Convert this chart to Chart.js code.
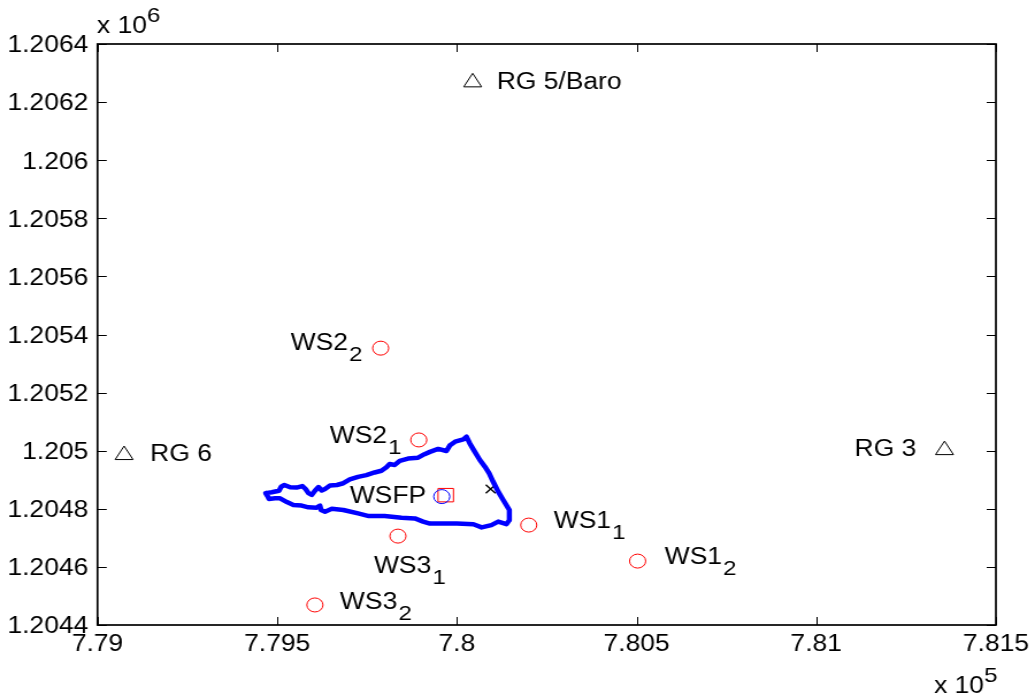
<!DOCTYPE html>
<html>
<head>
<meta charset="utf-8">
<script src="https://cdn.jsdelivr.net/npm/chart.js@4"></script>
<style>
  html, body { margin: 0; padding: 0; background: #fff; overflow: hidden; }
  /* the original figure is stretched sideways, circles come out as ellipses */
  #wrap { width: 899px; height: 693px; transform: scaleX(1.15); transform-origin: 0 0; }
</style>
</head>
<body>
<div id="wrap"><canvas id="siteMap"></canvas></div>
<script>
// Catchment outline (easting, northing)
const outlineX = [779468, 779485, 779505, 779511, 779520, 779536, 779554, 779570, 779579, 779587, 779596, 779605, 779615, 779624, 779633, 779647, 779666, 779684, 779702, 779725, 779748, 779771, 779790, 779804, 779813, 779827, 779841, 779864, 779892, 779910, 779925, 779948, 779971, 779981, 779995, 780018, 780027, 780036, 780050, 780064, 780078, 780090, 780101, 780115, 780129, 780146, 780146, 780138, 780115, 780096, 780069, 780046, 780000, 779925, 779906, 779883, 779846, 779799, 779755, 779725, 779684, 779652, 779633, 779622, 779619, 779610, 779587, 779568, 779545, 779527, 779508, 779494, 779477, 779474, 779468];
const outlineY = [1204854, 1204857, 1204862, 1204876, 1204882, 1204874, 1204873, 1204878, 1204868, 1204854, 1204848, 1204862, 1204875, 1204863, 1204868, 1204880, 1204882, 1204888, 1204901, 1204910, 1204916, 1204925, 1204931, 1204943, 1204954, 1204951, 1204965, 1204973, 1204976, 1204988, 1204996, 1205006, 1204999, 1205019, 1205031, 1205039, 1205048, 1205025, 1204996, 1204968, 1204945, 1204922, 1204893, 1204859, 1204830, 1204796, 1204761, 1204747, 1204756, 1204744, 1204736, 1204747, 1204749, 1204749, 1204756, 1204767, 1204769, 1204775, 1204775, 1204784, 1204796, 1204800, 1204790, 1204796, 1204811, 1204804, 1204805, 1204811, 1204813, 1204823, 1204836, 1204836, 1204834, 1204842, 1204854];

// Water level sites
const wellNames = ['WS1', 'WS1', 'WS2', 'WS2', 'WS3', 'WS3'];
const wellSubs = ['1', '2', '1', '2', '1', '2'];
const wellX = [780200, 780503, 779894, 779788, 779836, 779605];
const wellY = [1204744, 1204620, 1205037, 1205353, 1204706, 1204469];

// Rain gauges
const gaugeNames = ['RG 3', 'RG 5/Baro', 'RG 6'];
const gaugeX = [781357, 780044, 779074];
const gaugeY = [1205002, 1206268, 1204985];

// WSFP markers
const fpName = 'WSFP';
const fpCircleX = [779958];
const fpCircleY = [1204842];
const fpSquareX = [779969];
const fpSquareY = [1204847];
const crossX = [780094];
const crossY = [1204868];

// Axes
const xTicks = [779000, 779500, 780000, 780500, 781000, 781500];
const xTickLabels = ['7.79', '7.795', '7.8', '7.805', '7.81', '7.815'];
const yTicks = [1204400, 1204600, 1204800, 1205000, 1205200, 1205400, 1205600, 1205800, 1206000, 1206200, 1206400];
const yTickLabels = ['1.2044', '1.2046', '1.2048', '1.205', '1.2052', '1.2054', '1.2056', '1.2058', '1.206', '1.2062', '1.2064'];

const FONT = 'Liberation Sans, Arial, sans-serif';
const STRETCH = 1.15;

function pts(xs, ys) {
  return xs.map((x, i) => ({ x: x, y: ys[i] }));
}

// pixel offsets of each label from its marker, as seen on the page
const wellOffsets = [[25, -3], [27, -3], [-89, -3], [-90, -4], [-24, 31], [25, -2]];
const gaugeOffsets = [[-90, 0], [24, 0], [26, 0]];

function drawSub(ctx, name, sub, x, y) {
  ctx.font = '23px ' + FONT;
  ctx.fillText(name, x, y);
  if (sub) {
    const w = ctx.measureText(name).width;
    ctx.font = '21px ' + FONT;
    ctx.fillText(sub, x + w + 1, y + 11);
  }
}

const labelPlugin = {
  id: 'labels',
  afterDatasetsDraw(chart) {
    const ctx = chart.ctx;
    const sx = chart.scales.x, sy = chart.scales.y;
    ctx.save();
    ctx.fillStyle = '#000';
    ctx.textBaseline = 'middle';
    ctx.textAlign = 'left';
    wellNames.forEach((n, i) => {
      drawSub(ctx, n, wellSubs[i],
        sx.getPixelForValue(wellX[i]) + wellOffsets[i][0] / STRETCH,
        sy.getPixelForValue(wellY[i]) + wellOffsets[i][1]);
    });
    gaugeNames.forEach((n, i) => {
      drawSub(ctx, n, '',
        sx.getPixelForValue(gaugeX[i]) + gaugeOffsets[i][0] / STRETCH,
        sy.getPixelForValue(gaugeY[i]) + gaugeOffsets[i][1]);
    });
    drawSub(ctx, fpName, '', sx.getPixelForValue(fpCircleX[0]) - 92 / STRETCH, sy.getPixelForValue(fpCircleY[0]));
    // axis multipliers
    drawSub(ctx, 'x 10', '', 97 / STRETCH, 27);
    ctx.font = '21px ' + FONT;
    ctx.fillText('6', 147 / STRETCH, 16);
    drawSub(ctx, 'x 10', '', 934 / STRETCH, 687);
    ctx.font = '21px ' + FONT;
    ctx.fillText('5', 984 / STRETCH, 676);
    ctx.restore();
  }
};

// box and inward ticks on all four sides
const framePlugin = {
  id: 'frame',
  afterDraw(chart) {
    const a = chart.chartArea, ctx = chart.ctx;
    const sx = chart.scales.x, sy = chart.scales.y;
    ctx.save();
    ctx.strokeStyle = '#000';
    ctx.lineWidth = 1.7;
    ctx.strokeRect(a.left, a.top, a.right - a.left, a.bottom - a.top);
    ctx.lineWidth = 1;
    ctx.beginPath();
    xTicks.forEach((v) => {
      const x = Math.round(sx.getPixelForValue(v)) + 0.5;
      ctx.moveTo(x, a.bottom); ctx.lineTo(x, a.bottom - 8);
      ctx.moveTo(x, a.top); ctx.lineTo(x, a.top + 8);
    });
    yTicks.forEach((v) => {
      const y = Math.round(sy.getPixelForValue(v)) + 0.5;
      ctx.moveTo(a.left, y); ctx.lineTo(a.left + 8, y);
      ctx.moveTo(a.right, y); ctx.lineTo(a.right - 8, y);
    });
    ctx.stroke();
    ctx.restore();
  }
};

new Chart(document.getElementById('siteMap'), {
  type: 'scatter',
  data: {
    datasets: [
      {
        label: 'Outline',
        data: pts(outlineX, outlineY),
        showLine: true,
        borderColor: '#0000ff',
        borderWidth: 4.5,
        borderJoinStyle: 'round',
        borderCapStyle: 'round',
        pointRadius: 0,
        tension: 0
      },
      {
        label: 'Wells',
        data: pts(wellX, wellY),
        pointStyle: 'circle',
        pointRadius: 7,
        pointBorderColor: '#ff0000',
        pointBackgroundColor: 'transparent',
        pointBorderWidth: 1
      },
      {
        label: 'Rain gauges',
        data: pts(gaugeX, gaugeY),
        pointStyle: 'triangle',
        pointRadius: 9,
        pointBorderColor: '#000',
        pointBackgroundColor: 'transparent',
        pointBorderWidth: 1
      },
      {
        label: 'WSFP circle',
        data: pts(fpCircleX, fpCircleY),
        pointStyle: 'circle',
        pointRadius: 7,
        pointBorderColor: '#0000ff',
        pointBackgroundColor: 'transparent',
        pointBorderWidth: 1
      },
      {
        label: 'WSFP square',
        data: pts(fpSquareX, fpSquareY),
        pointStyle: 'rect',
        pointRadius: 9.5,
        pointBorderColor: '#ff0000',
        pointBackgroundColor: 'transparent',
        pointBorderWidth: 1
      },
      {
        label: 'Centre',
        data: pts(crossX, crossY),
        pointStyle: 'crossRot',
        pointRadius: 6,
        pointBorderColor: '#000',
        pointBorderWidth: 1.4
      }
    ]
  },
  options: {
    responsive: true,
    maintainAspectRatio: false,
    animation: false,
    layout: { padding: { top: 44, right: 33, left: 0, bottom: 0 } },
    plugins: { legend: { display: false }, tooltip: { enabled: false } },
    scales: {
      x: {
        type: 'linear',
        min: 779000,
        max: 781500,
        afterBuildTicks: (axis) => { axis.ticks = xTicks.map(v => ({ value: v })); },
        afterFit: (axis) => { axis.height = 68; axis.paddingLeft = 0; axis.paddingRight = 0; },
        ticks: {
          maxRotation: 0,
          autoSkip: false,
          color: '#000',
          font: { family: FONT, size: 23 },
          padding: 6,
          callback: (v) => xTickLabels[xTicks.indexOf(v)]
        },
        grid: { drawOnChartArea: false, drawTicks: false },
        border: { display: false }
      },
      y: {
        type: 'linear',
        min: 1204400,
        max: 1206400,
        afterBuildTicks: (axis) => { axis.ticks = yTicks.map(v => ({ value: v })); },
        afterFit: (axis) => { axis.width = 97.5 / STRETCH; axis.paddingTop = 0; axis.paddingBottom = 0; },
        ticks: {
          autoSkip: false,
          color: '#000',
          font: { family: FONT, size: 23 },
          padding: 8,
          labelOffset: 2,
          callback: (v) => yTickLabels[yTicks.indexOf(v)]
        },
        grid: { drawOnChartArea: false, drawTicks: false },
        border: { display: false }
      }
    }
  },
  plugins: [labelPlugin, framePlugin]
});
</script>
</body>
</html>
